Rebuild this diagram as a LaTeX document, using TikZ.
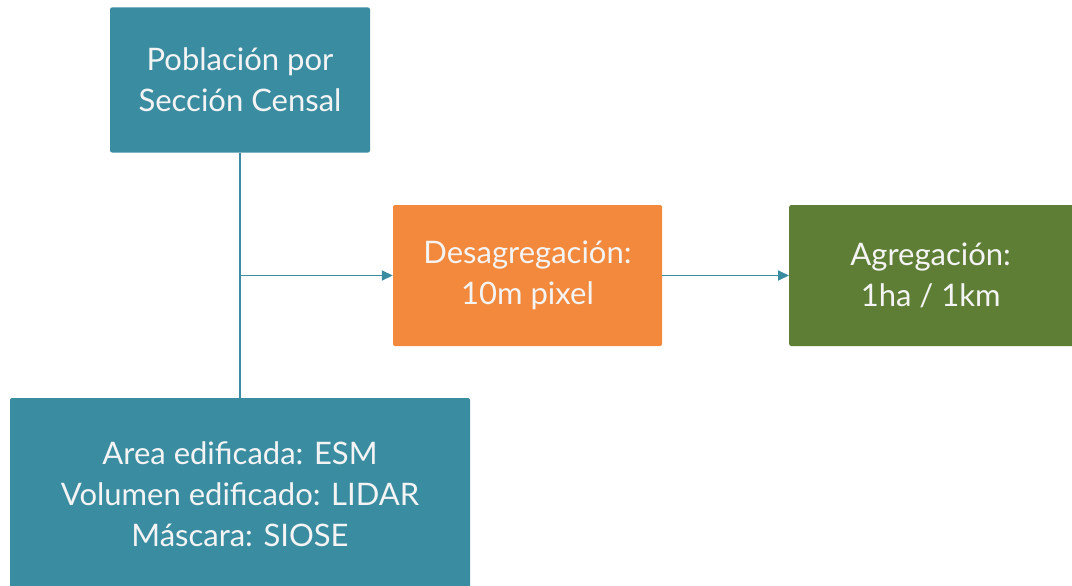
\documentclass[tikz,border=0pt]{standalone}
\usepackage{fontspec}
\setmainfont{Lato}
\usetikzlibrary{arrows.meta}
\definecolor{teal1}{HTML}{3A8DA1}
\definecolor{orange1}{HTML}{F2893D}
\definecolor{green1}{HTML}{5E7E36}
\definecolor{txt}{HTML}{F4F4F4}
\tikzset{
  box/.style={fill=#1, draw=none, rounded corners=2pt, text=txt, align=center,
    font=\fontsize{31}{41}\selectfont, inner sep=0pt},
  conn/.style={draw=teal1, line width=1.8pt},
  arr/.style={conn, -{Triangle[length=11pt,width=10pt]}}
}
\begin{document}
\begin{tikzpicture}[x=1pt,y=-1pt]
\useasboundingbox (0,0) rectangle (1072,586);
\node[box=teal1, minimum width=260pt, minimum height=145pt] (pob) at (240,80) {Población por\\Sección Censal};
\node[box=orange1, minimum width=269pt, minimum height=141pt] (des) at (527.5,275.5) {Desagregación:\\10m pixel};
\node[box=green1, minimum width=290pt, minimum height=141pt, anchor=west] (agr) at (789,275.5) {\hspace*{-7pt}Agregación:\\\hspace*{-7pt}1ha / 1km};
\node[box=teal1, minimum width=460pt, minimum height=192pt] (area) at (240,494) {Area edificada: ESM\\Volumen edificado: LIDAR\\Máscara: SIOSE};
\coordinate (j) at (240,275.5);
\draw[conn] (pob.south) -- (area.north);
\draw[arr] (j) -- (des.west);
\draw[arr] (des.east) -- (agr.west);
\end{tikzpicture}
\end{document}
